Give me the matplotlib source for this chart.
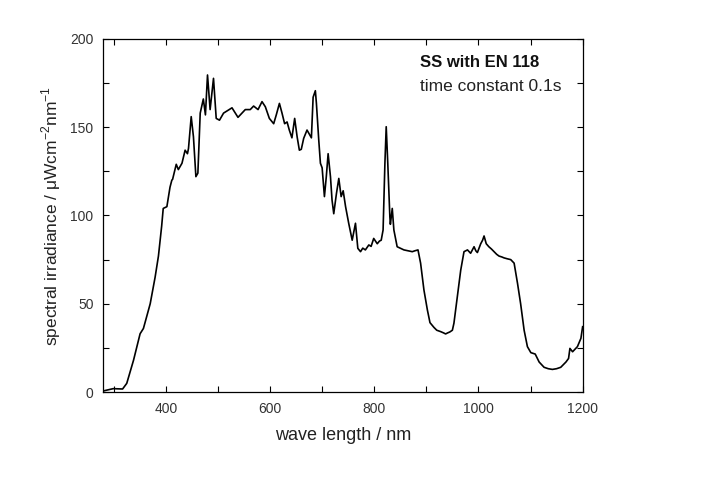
import matplotlib
matplotlib.use("Agg")
import matplotlib.pyplot as plt
from matplotlib.ticker import MultipleLocator

plt.rcParams['font.family'] = ['Liberation Sans', 'DejaVu Sans']

# wavelength (nm) and spectral irradiance
wl = [280, 299, 317, 325, 338, 350.6, 357, 370, 379.4, 385.8, 392, 395, 402, 408, 411.5,
      413, 420, 424, 431, 437, 441.5, 443.5, 448.7, 453, 457.7, 461.5, 466, 467.5, 472, 476,
      480, 485, 491.5, 496.7, 503, 510.8, 527, 538.5, 552.5, 562, 568.5, 577, 584.6, 591,
      598.7, 607, 612, 618, 623, 628, 632.7, 637, 642, 647.3, 652, 656.3, 660, 664.6, 671,
      675.6, 679.4, 682.7, 687, 689, 693.5, 696.7, 700, 704.4, 708, 711.5, 716, 719, 722.3,
      727.5, 732, 736.5, 740.4, 745, 751, 757.7, 764, 768.5, 773.7, 778, 783, 789.6, 794,
      799, 805.8, 810, 813.4, 817, 820.5, 823, 826, 830, 831, 834.6, 837.7, 844, 850, 857,
      865, 873, 878, 884, 889, 895.4, 902, 907, 914.6, 920, 927.5, 933, 937, 941, 945,
      950, 953, 959.6, 966, 972.3, 979, 985, 991.6, 995, 998, 1004.4, 1008, 1010.8, 1015,
      1020, 1025, 1030, 1035, 1039.6, 1045, 1049, 1055, 1062, 1068.5, 1075, 1081, 1087.7,
      1094, 1100.6, 1109, 1116.5, 1126, 1134, 1142, 1150, 1158, 1168, 1173, 1175.6,
      1180.7, 1190, 1196.7, 1200]
irr = [0.6, 1.9, 1.7, 4.9, 18, 33, 36, 50, 65, 77, 94, 104, 105, 116, 120,
       120.5, 129, 126, 129.6, 137, 135, 138, 156, 144.6, 122, 124, 158, 160, 166, 157,
       179.6, 160, 177.7, 155, 154, 158, 161, 155.6, 160, 160, 162, 160, 164.5, 161.6,
       155, 152, 157, 163.5, 158, 152, 153, 148.4, 144, 155, 144.6, 137, 137.5, 143.7, 148.4,
       146, 144, 167, 170.7, 163.6, 142.8, 129.6, 127, 110.7, 122, 135, 122, 108.8, 101,
       112.5, 121, 110.7, 114, 105, 95.6, 86, 95.6, 81.4, 79.5, 81.5, 80.5, 83.3, 82.5,
       87, 84, 85.5, 86, 91.8, 129.6, 150.3, 129.6, 99.3, 95, 104, 91.8, 82.3, 81.5, 80.5,
       80, 79.5, 80, 80.5, 73, 57.8, 46.5, 39.3, 36.6, 35, 34.2, 33.5, 32.9, 33.5, 34,
       35, 39, 54, 69, 79.5, 80.5, 78.6, 82.3, 80, 79, 84, 86, 88.4, 84,
       82.3, 81, 79.5, 78, 77, 76.5, 76, 75.5, 75, 73, 61.6, 50, 35,
       25.7, 22.3, 21.5, 17, 14, 13.2, 12.8, 13.2, 14, 17, 19, 24.7,
       22.8, 25.7, 30.4, 37]

fig = plt.figure(figsize=(7.12, 4.83), dpi=100)
ax = fig.add_axes([0.1451, 0.1884, 0.6732, 0.7309])

ax.plot(wl, irr, color='black', lw=1.2)

ax.set_xlim(280, 1200)
ax.set_ylim(0, 200)
ax.xaxis.set_major_locator(MultipleLocator(200))
ax.xaxis.set_minor_locator(MultipleLocator(100))
ax.yaxis.set_major_locator(MultipleLocator(50))
ax.yaxis.set_minor_locator(MultipleLocator(25))
ax.tick_params(which='both', direction='in', top=True, right=True,
               labelsize=10, labelcolor='#333333', width=0.8)
ax.tick_params(which='major', length=4, pad=7)
ax.tick_params(which='minor', length=4)
for s in ax.spines.values():
    s.set_linewidth(0.9)

ax.set_xlabel('wave length / nm', fontsize=13, color='#222222', labelpad=8)
ax.set_ylabel(r'spectral irradiance / $\mathregular{\mu}$Wcm$^{\mathregular{-2}}$nm$^{\mathregular{-1}}$',
              fontsize=12.5, color='#222222', labelpad=5)

ax.text(0.661, 0.932, 'SS with EN 118', transform=ax.transAxes, fontsize=12,
        fontweight='bold', color='#111111', va='center')
ax.text(0.661, 0.866, 'time constant 0.1s', transform=ax.transAxes, fontsize=12.5,
        color='#222222', va='center')

fig.savefig('out.png', dpi=100)
